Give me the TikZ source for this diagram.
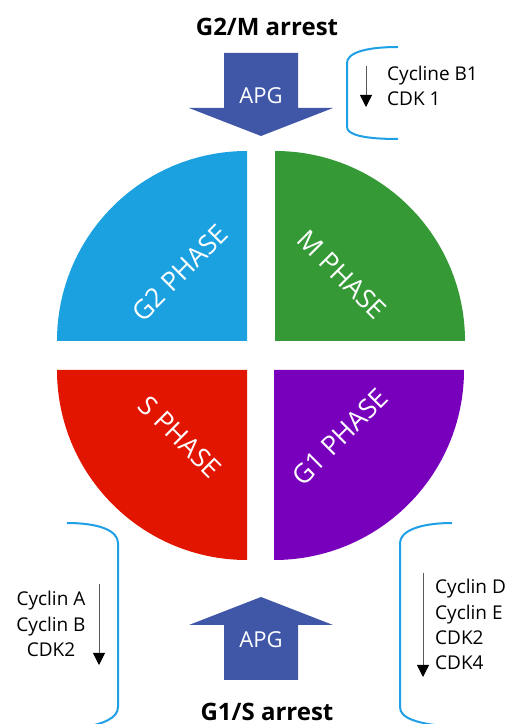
\documentclass[tikz,border=0pt]{standalone}
\usepackage{fontspec}
\setmainfont{Open Sans}
\usetikzlibrary{
    arrows.meta,
    positioning,
}
\definecolor{gtwoblue}{HTML}{1CA1E0}
\definecolor{mgreen}{HTML}{359A36}
\definecolor{sred}{HTML}{E21500}
\definecolor{gonepurple}{HTML}{7800BD}
\definecolor{apgblue}{HTML}{4057A8}
\definecolor{bracketblue}{HTML}{1E9FE6}
\tikzset{
    phaselabel/.style = {
        text=white,
        font=\fontsize{26.5}{30}\selectfont,
        inner sep=0pt,
    },
    apglabel/.style = {
        text=white,
        font=\fontsize{22}{26}\selectfont,
        inner sep=0pt,
    },
    arresttitle/.style = {
        font=\bfseries\fontsize{24}{28}\selectfont,
        anchor=base,
        inner sep=0pt,
    },
    genelist/.style = {
        font=\fontsize{19}{25.5}\selectfont,
        inner sep=0pt,
    },
    bracket/.style = {
        draw=bracketblue,
        line width=2pt,
    },
}
\tikzstyle{trend} = [
    draw=black!65,
    line width=0.8pt,
    -{Triangle[width=12pt,length=12pt,color=black]}
]

\begin{document}
\begin{tikzpicture}[x=1pt,y=1pt]
        \useasboundingbox (0,0) rectangle (507,724);

        % the four phases
        \fill [gtwoblue] (247,383) -- (57,383) arc (180:90:190) -- cycle;
        \fill [mgreen] (275,383) -- (275,573) arc (90:0:190) -- cycle;
        \fill [sred] (247,354) -- (57,354) arc (180:270:190) -- cycle;
        \fill [gonepurple] (274,354) -- (464,354) arc (0:-90:190) -- cycle;

        \node [phaselabel, rotate=45] (gtwo) at (180,451) {G2 PHASE};
        \node [phaselabel, rotate=-45] (mphase) at (342,449) {M PHASE};
        \node [phaselabel, rotate=-45] (sphase) at (180,287) {S PHASE};
        \node [phaselabel, rotate=45] (gone) at (340,287) {G1 PHASE};

        % APG arrows
        \fill [apgblue] (224,671) -- (298,671) -- (298,616) -- (333,616)
            -- (261,588) -- (189,616) -- (224,616) -- cycle;
        \fill [apgblue] (224,44) -- (298,44) -- (298,99) -- (333,99)
            -- (261,127) -- (189,99) -- (224,99) -- cycle;

        \node [apglabel] (apgTop) at (261,628) {APG};
        \node [apglabel] (apgBottom) at (261,84) {APG};

        \node [arresttitle] (gtwoM) at (267,688) {G2/M arrest};
        \node [arresttitle] (goneS) at (267,3) {G1/S arrest};

        % brackets
        \draw [bracket] (398,677) .. controls (365,677) and (347,671) .. (347,661)
            -- (347,597) .. controls (347,589) and (365,585) .. (398,585);
        \draw [bracket] (67,201) .. controls (100,201) and (118,193) .. (118,181)
            -- (118,17) .. controls (118,6) and (104,0) .. (80,-4);
        \draw [bracket] (452,201) .. controls (420,201) and (400,193) .. (400,181)
            -- (400,17) .. controls (400,6) and (416,0) .. (453,-3);

        % gene lists (base is the last line)
        \node [genelist, anchor=base west, align=left] (listTop) at (387,618)
        {Cycline B1\\CDK 1};
        \node [genelist, anchor=base, align=center] (listLeft) at (51,67)
        {Cyclin A\\Cyclin B\\CDK2};
        \node [genelist, anchor=base west, align=left] (listRight) at (435,54)
        {Cyclin D\\Cyclin E\\CDK2\\CDK4};

        \coordinate (topFrom) at (366,658);
        \coordinate (topTo) at (366,617);
        \coordinate (leftFrom) at (99,140);
        \coordinate (leftTo) at (99,59);
        \coordinate (rightFrom) at (423,151);
        \coordinate (rightTo) at (423,47);

        \draw [trend] (topFrom) -- (topTo);
        \draw [trend] (leftFrom) -- (leftTo);
        \draw [trend] (rightFrom) -- (rightTo);

    \end{tikzpicture}
\end{document}
